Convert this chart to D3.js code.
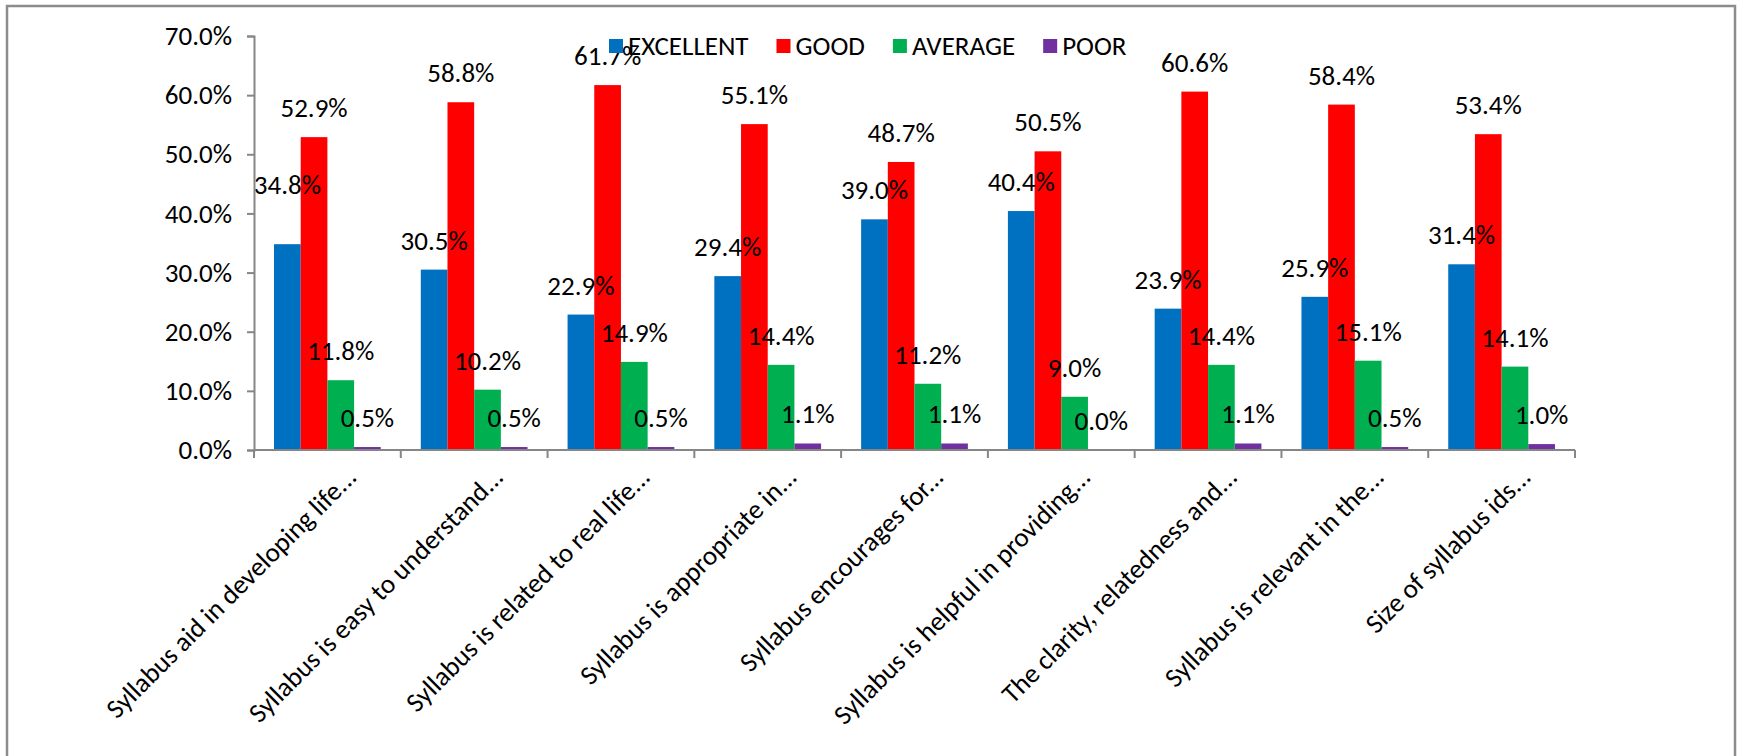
<!DOCTYPE html>
<html>
<head>
<meta charset="utf-8">
<script src="https://cdn.jsdelivr.net/npm/d3@7"></script>
<style>
  body { margin: 0; background: #fff; }
  svg { display: block; font-family: Carlito, Calibri, Lato, sans-serif; }
</style>
</head>
<body>
<div id="chart"></div>
<script>
var categories = [
    "Syllabus aid in developing life...",
    "Syllabus is easy to understand...",
    "Syllabus is related to real life...",
    "Syllabus is appropriate in...",
    "Syllabus encourages for...",
    "Syllabus is helpful in providing...",
    "The clarity, relatedness and...",
    "Syllabus is relevant in the...",
    "Size of syllabus ids..."
];
var seriesNames = ["EXCELLENT", "GOOD", "AVERAGE", "POOR"];
var excellent = [34.8, 30.5, 22.9, 29.4, 39.0, 40.4, 23.9, 25.9, 31.4];
var good      = [52.9, 58.8, 61.7, 55.1, 48.7, 50.5, 60.6, 58.4, 53.4];
var average   = [11.8, 10.2, 14.9, 14.4, 11.2, 9.0, 14.4, 15.1, 14.1];
var poor      = [0.5, 0.5, 0.5, 1.1, 1.1, 0.0, 1.1, 0.5, 1.0];
var yTicks = [0, 10, 20, 30, 40, 50, 60, 70];

var colors = ["#0070C0", "#FF0000", "#00B050", "#7030A0"];
var values = [excellent, good, average, poor];

var W = 1739, H = 756;
var margin = {top: 36, right: 164, bottom: 306, left: 254};
var width = W - margin.left - margin.right;
var height = H - margin.top - margin.bottom;
var fontSize = 27;

var svg = d3.select("#chart").append("svg")
    .attr("width", W)
    .attr("height", H);

// outer frame
svg.append("rect")
    .attr("x", 7).attr("y", 6)
    .attr("width", 1728).attr("height", 780)
    .attr("fill", "none")
    .attr("stroke", "#8c8c8c")
    .attr("stroke-width", 2.5);

var graph = svg.append("g")
    .attr("transform", "translate(" + margin.left + "," + margin.top + ")");

var x0 = d3.scaleBand().domain(categories).range([0, width]).padding(0);
var x1 = d3.scaleBand().domain(seriesNames)
    .range([x0.bandwidth() * 0.75 / 5.5, x0.bandwidth() * 4.75 / 5.5]);
var y = d3.scaleLinear().domain([0, 70]).range([height, 0]);

var rows = categories.map(function (c, i) {
    return seriesNames.map(function (s, j) {
        return {cat: c, series: s, value: values[j][i], color: colors[j], i: i, j: j};
    });
});

var groups = graph.selectAll(".grp")
    .data(rows)
    .enter().append("g")
    .attr("class", "grp")
    .attr("transform", function (d, i) { return "translate(" + x0(categories[i]) + ",0)"; });

groups.selectAll("rect")
    .data(function (d) { return d; })
    .enter().append("rect")
    .attr("x", function (d) { return x1(d.series); })
    .attr("y", function (d) { return y(d.value); })
    .attr("width", x1.bandwidth())
    .attr("height", function (d) { return height - y(d.value); })
    .attr("fill", function (d) { return d.color; });

// data labels (the first one was dragged higher in the original)
groups.selectAll("text")
    .data(function (d) { return d; })
    .enter().append("text")
    .attr("x", function (d) { return x1(d.series) + x1.bandwidth() / 2; })
    .attr("y", function (d) {
        var lift = (d.i === 0 && d.j === 0) ? 30 : 0;
        return y(d.value) - 20 - lift;
    })
    .attr("text-anchor", "middle")
    .attr("font-size", fontSize)
    .attr("fill", "#000")
    .text(function (d) { return d.value.toFixed(1) + "%"; });

// y axis
var yAxis = graph.append("g")
    .call(d3.axisLeft(y).tickValues(yTicks).tickSize(7).tickPadding(15)
        .tickFormat(function (d) { return d.toFixed(1) + "%"; }));
yAxis.select(".domain").attr("stroke", "#868686").attr("stroke-width", 2);
yAxis.selectAll(".tick line").attr("stroke", "#868686").attr("stroke-width", 2);
yAxis.selectAll(".tick text")
    .attr("font-size", fontSize)
    .attr("font-family", "Carlito, Calibri, Lato, sans-serif")
    .attr("fill", "#000");

// x axis: line with ticks at category boundaries
var xAxisG = graph.append("g").attr("transform", "translate(0," + height + ")");
xAxisG.append("line")
    .attr("x1", 0).attr("x2", width)
    .attr("stroke", "#868686").attr("stroke-width", 2);
xAxisG.selectAll(".xt")
    .data(d3.range(categories.length + 1))
    .enter().append("line")
    .attr("x1", function (i) { return i * x0.step(); })
    .attr("x2", function (i) { return i * x0.step(); })
    .attr("y1", 0).attr("y2", 8)
    .attr("stroke", "#868686").attr("stroke-width", 2);

xAxisG.selectAll(".xl")
    .data(categories)
    .enter().append("text")
    .attr("transform", function (d) {
        return "translate(" + (x0(d) + x0.bandwidth() / 2 + 24) + ",22) rotate(-45)";
    })
    .attr("text-anchor", "end")
    .attr("dy", "0.35em")
    .attr("font-size", fontSize)
    .attr("fill", "#000")
    .text(function (d) { return d; });

// legend
var legend = svg.append("g").attr("transform", "translate(609,46)");
var lx = 0;
seriesNames.forEach(function (s, j) {
    var item = legend.append("g").attr("transform", "translate(" + lx + ",0)");
    item.append("rect")
        .attr("x", 0).attr("y", -7)
        .attr("width", 14).attr("height", 14)
        .attr("fill", colors[j]);
    var t = item.append("text")
        .attr("x", 19).attr("dy", "0.35em")
        .attr("font-size", fontSize)
        .attr("fill", "#000")
        .text(s);
    lx += 19 + t.node().getComputedTextLength() + 28;
});
</script>
</body>
</html>
